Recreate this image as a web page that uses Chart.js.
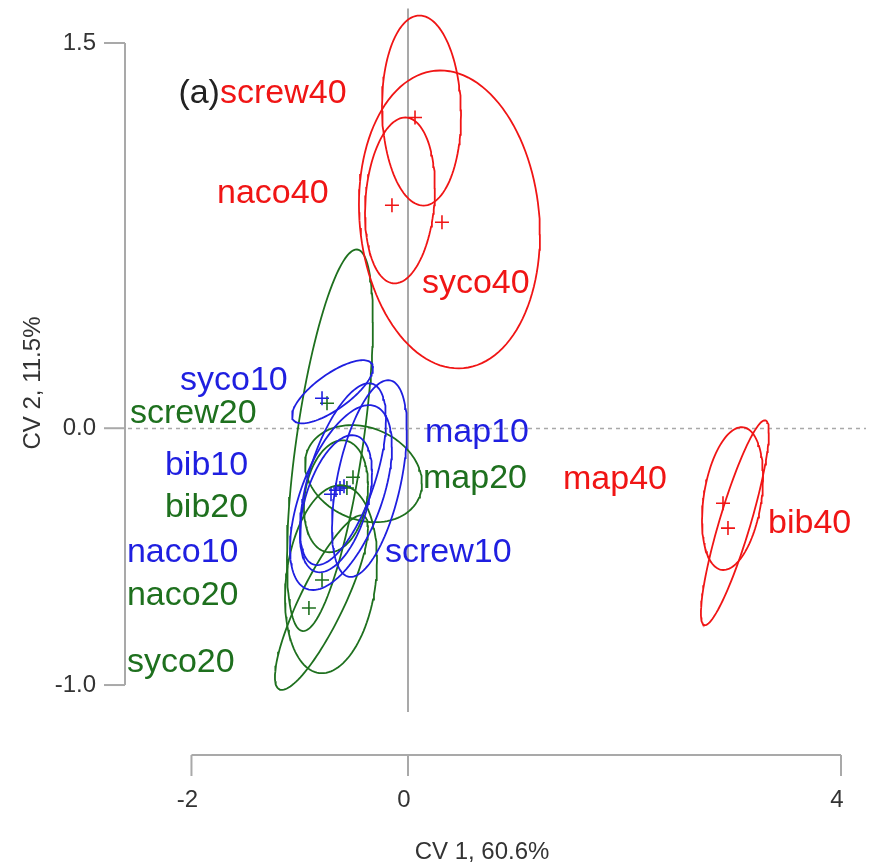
<!DOCTYPE html>
<html>
<head>
<meta charset="utf-8">
<script src="https://cdn.jsdelivr.net/npm/chart.js@4"></script>
<style>
html, body { margin: 0; padding: 0; background: #fff; }
</style>
</head>
<body>
<canvas id="cv" width="876" height="866"></canvas>
<script>
// groups: treatment + level
var groups = ['screw40', 'naco40', 'syco40', 'map40', 'bib40',
    'syco10', 'map10', 'naco10', 'screw10', 'bib10',
    'screw20', 'bib20', 'map20', 'naco20', 'syco20'];
var levels = [40, 40, 40, 40, 40, 10, 10, 10, 10, 10, 20, 20, 20, 20, 20];

// group centroids (the + marks)
var meanCV1 = [0.065, -0.148, 0.314, 2.910, 2.956, -0.794, -0.591, -0.665, -0.628, -0.711, -0.748, -0.564, -0.508, -0.794, -0.915];
var meanCV2 = [1.210, 0.868, 0.802, -0.292, -0.389, 0.117, -0.226, -0.241, -0.233, -0.257, 0.097, -0.233, -0.191, -0.591, -0.700];

// ellipse centre, half extents and correlation
var ellCV1 = [0.125, -0.074, 0.383, 2.998, 3.020, -0.697, -0.356, -0.619, -0.600, -0.665, -0.721, -0.665, -0.411, -0.711, -0.799];
var ellCV2 = [1.237, 0.887, 0.813, -0.274, -0.368, 0.142, -0.196, -0.270, -0.179, -0.294, -0.047, -0.265, -0.177, -0.588, -0.679];
var ellRx = [0.365, 0.323, 0.836, 0.282, 0.314, 0.374, 0.346, 0.471, 0.397, 0.333, 0.397, 0.296, 0.540, 0.425, 0.430];
var ellRy = [0.370, 0.323, 0.580, 0.278, 0.399, 0.123, 0.383, 0.360, 0.354, 0.267, 0.743, 0.218, 0.189, 0.366, 0.340];
var ellCor = [-0.05, 0.15, -0.10, 0.30, 0.88, 0.75, 0.50, 0.55, 0.60, 0.45, 0.62, 0.20, -0.20, 0.20, 0.85];

// where each group name is written (left edge, middle)
var labCV1 = [-1.737, -1.764, 0.129, 1.432, 3.326, -2.106, 0.157, -2.596, -0.212, -2.245, -2.568, -2.245, 0.139, -2.596, -2.596];
var labCV2 = [1.304, 0.914, 0.564, -0.202, -0.370, 0.187, -0.019, -0.486, -0.486, -0.144, 0.058, -0.311, -0.195, -0.650, -0.911];

var xTicks = [-2, 0, 4];
var xTickText = ['-2', '0', '4'];
var yTicks = [1.5, 0, -1];
var yTickText = ['1.5', '0.0', '-1.0'];

var levelColor = {10: '#1f1fe0', 20: '#1e701e', 40: '#f01515'};
var axisGrey = '#a9a9a9';
var textGrey = '#333333';
var FONT = '"Liberation Sans", Arial, sans-serif';

var ellipsePoints = function (i) {
    var pts = [];
    var s = Math.sqrt(1 - ellCor[i] * ellCor[i]);
    for (var k = 0; k <= 120; k++) {
        var t = k / 120 * 2 * Math.PI;
        pts.push({
            x: ellCV1[i] + ellRx[i] * Math.cos(t),
            y: ellCV2[i] + ellRy[i] * (ellCor[i] * Math.cos(t) + s * Math.sin(t))
        });
    }
    return pts;
};

var datasets = [];
groups.forEach(function (g, i) {
    datasets.push({
        label: g,
        data: ellipsePoints(i),
        showLine: true,
        fill: false,
        tension: 0,
        pointRadius: 0,
        borderWidth: 1.8,
        borderColor: levelColor[levels[i]]
    });
});
groups.forEach(function (g, i) {
    datasets.push({
        label: g + ' mean',
        data: [{x: meanCV1[i], y: meanCV2[i]}],
        pointStyle: 'cross',
        pointRadius: 7,
        pointBorderWidth: 1.6,
        borderColor: levelColor[levels[i]],
        backgroundColor: levelColor[levels[i]]
    });
});

var cvAxes = {
    id: 'cvAxes',
    beforeDatasetsDraw: function (chart) {
        var ctx = chart.ctx, a = chart.chartArea;
        var sx = chart.scales.x, sy = chart.scales.y;
        ctx.save();
        ctx.strokeStyle = axisGrey;
        ctx.lineWidth = 2;
        var x0 = Math.round(sx.getPixelForValue(0));
        ctx.beginPath(); ctx.moveTo(x0, a.top); ctx.lineTo(x0, a.bottom); ctx.stroke();
        var y0 = Math.round(sy.getPixelForValue(0)) + 0.5;
        ctx.lineWidth = 1.5;
        ctx.setLineDash([4, 4]);
        ctx.beginPath(); ctx.moveTo(a.left + 3, y0); ctx.lineTo(a.right, y0); ctx.stroke();
        ctx.restore();
    },
    afterDatasetsDraw: function (chart) {
        var ctx = chart.ctx, a = chart.chartArea;
        var sx = chart.scales.x, sy = chart.scales.y;
        ctx.save();
        ctx.strokeStyle = axisGrey;
        ctx.lineWidth = 2;
        // left axis
        var ax = a.left;
        ctx.beginPath();
        ctx.moveTo(ax, sy.getPixelForValue(yTicks[0]));
        ctx.lineTo(ax, sy.getPixelForValue(yTicks[yTicks.length - 1]));
        ctx.stroke();
        ctx.fillStyle = textGrey;
        ctx.font = '24px ' + FONT;
        ctx.textAlign = 'right';
        ctx.textBaseline = 'middle';
        yTicks.forEach(function (v, i) {
            var py = sy.getPixelForValue(v);
            ctx.beginPath(); ctx.moveTo(ax - 21, py); ctx.lineTo(ax, py); ctx.stroke();
            ctx.fillText(yTickText[i], ax - 29, py);
        });
        // bottom axis
        var ay = a.bottom + 43;
        ctx.beginPath();
        ctx.moveTo(sx.getPixelForValue(xTicks[0]), ay);
        ctx.lineTo(sx.getPixelForValue(xTicks[xTicks.length - 1]), ay);
        ctx.stroke();
        ctx.textAlign = 'center';
        xTicks.forEach(function (v, i) {
            var px = sx.getPixelForValue(v);
            ctx.beginPath(); ctx.moveTo(px, ay); ctx.lineTo(px, ay + 21); ctx.stroke();
            ctx.fillText(xTickText[i], px - 4, ay + 45);
        });
        // axis titles
        ctx.fillText('CV 1, 60.6%', 482, 852);
        ctx.translate(33, 383);
        ctx.rotate(-Math.PI / 2);
        ctx.fillText('CV 2, 11.5%', 0, 0);
        ctx.restore();

        // group names
        ctx.save();
        ctx.font = '34px ' + FONT;
        ctx.textAlign = 'left';
        ctx.textBaseline = 'middle';
        groups.forEach(function (g, i) {
            ctx.fillStyle = levelColor[levels[i]];
            ctx.fillText(g, sx.getPixelForValue(labCV1[i]), sy.getPixelForValue(labCV2[i]));
        });
        ctx.fillStyle = '#222';
        ctx.textAlign = 'right';
        ctx.fillText('(a)', sx.getPixelForValue(labCV1[0]), sy.getPixelForValue(labCV2[0]));
        ctx.restore();
    }
};

new Chart(document.getElementById('cv'), {
    type: 'scatter',
    data: {datasets: datasets},
    options: {
        responsive: false,
        devicePixelRatio: 1,
        animation: false,
        layout: {padding: {left: 125, right: 10, top: 8, bottom: 154}},
        scales: {
            x: {type: 'linear', min: -2.614, max: 4.231, display: false},
            y: {type: 'linear', min: -1.105, max: 1.634, display: false}
        },
        plugins: {legend: {display: false}, tooltip: {enabled: false}}
    },
    plugins: [cvAxes]
});
</script>
</body>
</html>
